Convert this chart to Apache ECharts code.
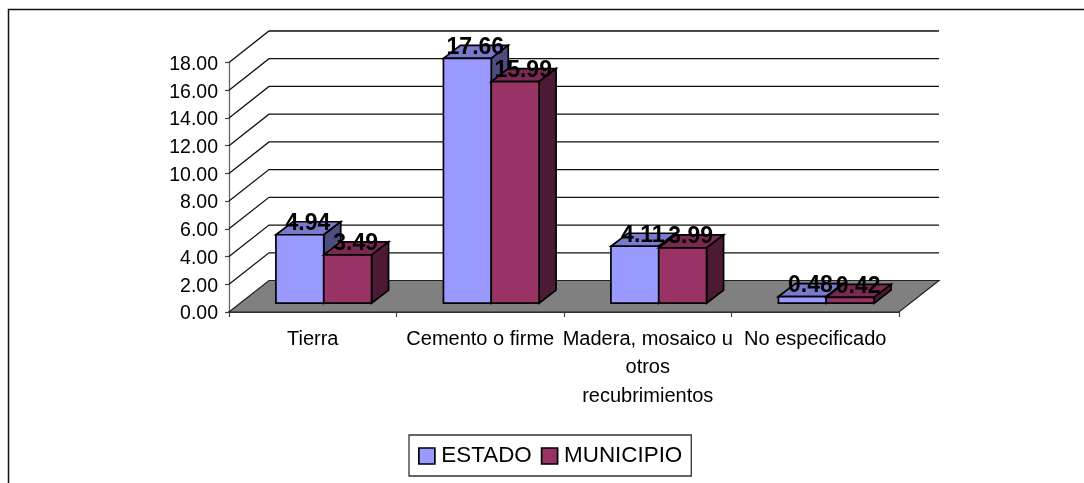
<!DOCTYPE html>
<html>
<head>
<meta charset="utf-8">
<style>html,body{margin:0;padding:0;background:#fff}#c{width:1084px;height:483px}</style>
<script src="https://cdn.jsdelivr.net/npm/echarts@6/dist/echarts.min.js"></script>
</head>
<body>
<div id="c"></div>
<script>
const categories = ['Tierra', 'Cemento o firme', 'Madera, mosaico u\notros\nrecubrimientos', 'No especificado'];
const estado = [4.94, 17.66, 4.11, 0.48];
const municipio = [3.49, 15.99, 3.99, 0.42];
const yTicks = [0, 2, 4, 6, 8, 10, 12, 14, 16, 18];

const FONT = '"Liberation Sans", Arial, sans-serif';
const WALL_DX = 40, WALL_DY = 31.5;      // depth of the chart box
const BAR_DX = 17, BAR_DY = 13;          // depth of a bar
const FRONT_DX = 11, FRONT_DY = 8.8;     // bar front inset from the box front
const BAR_FRAC = 0.2855;                 // bar width in bands

function bandInfo(api) {
  const band = api.size([1, 0])[0];
  const c0 = api.coord([0, 0]);
  return { band, left: c0[0] - band / 2, base: c0[1], n: categories.length };
}

function renderWall(params, api) {
  const b = bandInfo(api);
  const y = api.coord([0, api.value(0)])[1];
  const right = b.left + b.n * b.band;
  const ls = { stroke: '#111', lineWidth: 1.3, fill: null };
  const kids = [];
  if (api.value(0) > 0) {
    kids.push({ type: 'polyline', shape: { points: [[b.left, y], [b.left + WALL_DX, y - WALL_DY], [right + WALL_DX, y - WALL_DY]] }, style: ls });
  }
  return { type: 'group', children: kids };
}

function renderFloor(params, api) {
  const b = bandInfo(api);
  const right = b.left + b.n * b.band;
  return {
    type: 'polygon',
    shape: { points: [[b.left, b.base], [right, b.base], [right + WALL_DX, b.base - WALL_DY], [b.left + WALL_DX, b.base - WALL_DY]] },
    style: { fill: '#808080', stroke: '#222', lineWidth: 1.2 }
  };
}

function makeBars(offset, front, top, side) {
  return function (params, api) {
    const b = bandInfo(api);
    const i = api.value(0), v = api.value(1);
    const w = b.band * BAR_FRAC;
    const x0 = b.left + b.band * i + b.band / 2 + FRONT_DX + (offset - 1) * w;
    const x1 = x0 + w;
    const y0 = b.base - FRONT_DY;
    const y1 = api.coord([i, v])[1] - FRONT_DY;
    const st = { stroke: '#000', lineWidth: 1.7, lineJoin: 'miter' };
    return {
      type: 'group',
      children: [
        { type: 'polygon', shape: { points: [[x0, y1], [x0 + BAR_DX, y1 - BAR_DY], [x1 + BAR_DX, y1 - BAR_DY], [x1, y1]] }, style: Object.assign({ fill: top }, st) },
        { type: 'polygon', shape: { points: [[x1, y1], [x1 + BAR_DX, y1 - BAR_DY], [x1 + BAR_DX, y0 - BAR_DY], [x1, y0]] }, style: Object.assign({ fill: side }, st) },
        { type: 'rect', shape: { x: x0, y: y1, width: w, height: y0 - y1 }, style: Object.assign({ fill: front }, st) },
        { type: 'text', z2: 100, style: { text: v.toFixed(2), x: (x0 + x1) / 2 + 8, y: y1 - 11, align: 'center', verticalAlign: 'middle', font: 'bold 23px ' + FONT, fill: '#000' } }
      ]
    };
  };
}

const chart = echarts.init(document.getElementById('c'), null, { renderer: 'canvas' });
chart.setOption({
  animation: false,
  backgroundColor: '#fff',
  graphic: [
    { type: 'polyline', z: 10, shape: { points: [[8.5, 483], [8.5, 9.5], [1084, 9.5]] }, style: { stroke: '#111', lineWidth: 1.5, fill: null } }
  ],
  legend: {
    left: 409, top: 435,
    padding: [10, 9, 9, 9],
    borderColor: '#333', borderWidth: 1.3,
    itemWidth: 16, itemHeight: 16, itemGap: 9,
    textStyle: { fontFamily: FONT, fontSize: 22.4, color: '#000', padding: [0, 0, 0, 1.5] },
    data: [
      { name: 'ESTADO', icon: 'rect', itemStyle: { color: '#9999ff', borderColor: '#000', borderWidth: 1.7 } },
      { name: 'MUNICIPIO', icon: 'rect', itemStyle: { color: '#993366', borderColor: '#000', borderWidth: 1.7 } }
    ]
  },
  grid: { left: 229, top: 62.5, width: 670, height: 249.5 },
  xAxis: {
    type: 'category', data: categories,
    axisLine: { lineStyle: { color: '#000', width: 1.5 } },
    axisTick: { show: true, length: 5, alignWithLabel: false, lineStyle: { color: '#444', width: 1.2 } },
    axisLabel: { interval: 0, color: '#000', fontFamily: FONT, fontSize: 20, lineHeight: 28.5, margin: 13 },
    splitLine: { show: false }
  },
  yAxis: {
    type: 'value', min: 0, max: 18, interval: 2,
    axisLine: { show: true, lineStyle: { color: '#666', width: 1.3 } },
    axisTick: { show: true, length: 4, lineStyle: { color: '#444', width: 1.2 } },
    axisLabel: {
      color: '#000', margin: 11,
      formatter: v => '{n|' + v.toFixed(2) + '}',
      rich: { n: { fontFamily: FONT, fontSize: 19.5, color: '#000', padding: [4, 0, 0, 0] } }
    },
    splitLine: { show: false }
  },
  series: [
    { type: 'custom', name: 'wall', z: 1, silent: true, coordinateSystem: 'cartesian2d', renderItem: renderWall, data: yTicks.map(v => [v]), encode: { y: 0 } },
    { type: 'custom', name: 'floor', z: 2, silent: true, coordinateSystem: 'cartesian2d', renderItem: renderFloor, data: [[0]], encode: { y: 0 } },
    { type: 'custom', name: 'ESTADO', z: 3, color: '#9999ff', coordinateSystem: 'cartesian2d', renderItem: makeBars(0, '#9999ff', '#7a7acc', '#4d4d80'), data: estado.map((v, i) => [i, v]), encode: { x: 0, y: 1 } },
    { type: 'custom', name: 'MUNICIPIO', z: 4, color: '#993366', coordinateSystem: 'cartesian2d', renderItem: makeBars(1, '#993366', '#7a2952', '#4d1a33'), data: municipio.map((v, i) => [i, v]), encode: { x: 0, y: 1 } }
  ]
});
</script>
</body>
</html>
